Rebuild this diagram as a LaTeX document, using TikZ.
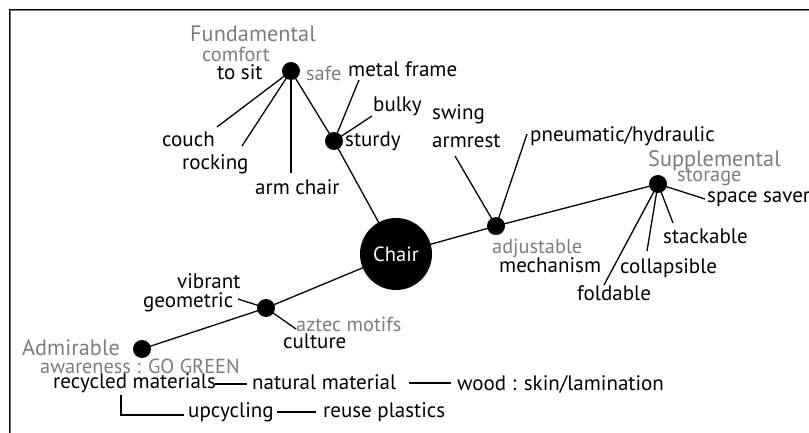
\documentclass[tikz,border=0pt]{standalone}
\usepackage{fontspec}
\setmainfont{PT Sans}
\definecolor{lgray}{RGB}{125,125,125}
\begin{document}
\begin{tikzpicture}[x=1pt,y=-1pt,
  line/.style={line width=1.3pt},
  dot/.style={circle,fill=black,inner sep=0pt,minimum size=18pt},
  blk/.style={inner sep=0pt,anchor=base west,font=\fontsize{21}{23}\selectfont},
  gry/.style={inner sep=0pt,anchor=base west,text=lgray,font=\fontsize{20.3}{22}\selectfont},
  head/.style={inner sep=0pt,anchor=base west,text=lgray,font=\fontsize{22.3}{24}\selectfont},
  ]
\useasboundingbox (0,0) rectangle (809,433);
% frame
\draw[line width=1.2pt,lgray] (10.8,433) -- (10.8,10.8) -- (809,10.8);
\draw[line width=1pt,black] (9.5,433) -- (9.5,9.5) -- (809,9.5);

% hub dots
\node[dot] (fund) at (291,71) {};
\node[dot] (sturdy) at (334,141) {};
\node[dot] (adj) at (496,226) {};
\node[dot] (supp) at (658,184) {};
\node[dot] (aztec) at (266,308) {};
\node[dot] (adm) at (142,349) {};
\coordinate (chairc) at (396,254);

% free ends
\coordinate (eCouch) at (217,127);
\coordinate (eRock) at (242,146);
\coordinate (eArm) at (291,173);
\coordinate (eMetal) at (359,80);
\coordinate (eBulky) at (372,116);
\coordinate (eArmrest) at (455,156);
\coordinate (ePneu) at (527,134);
\coordinate (eSpace) at (705,199);
\coordinate (eStack) at (673,223);
\coordinate (eColl) at (647,251);
\coordinate (eFold) at (604,285);
\coordinate (eGeo) at (238,299);
\coordinate (eMotif) at (296,329);

% main spine
\draw[line] (adm.center) -- (aztec.center) -- (chairc);
\draw[line] (chairc) -- (adj.center) -- (supp.center);
\draw[line] (fund.center) -- (sturdy.center) -- (chairc);
\node[circle,fill=black,inner sep=0pt,minimum size=72pt,text=white,
      font=\fontsize{20.5}{22}\selectfont] (chair) at (chairc) {Chair};

% branches
\draw[line] (fund.center) -- (eCouch);
\draw[line] (fund.center) -- (eRock);
\draw[line] (fund.center) -- (eArm);
\draw[line] (sturdy.center) -- (eMetal);
\draw[line] (sturdy.center) -- (eBulky);
\draw[line] (adj.center) -- (eArmrest);
\draw[line] (adj.center) -- (ePneu);
\draw[line] (supp.center) -- (eSpace);
\draw[line] (supp.center) -- (eStack);
\draw[line] (supp.center) -- (eColl);
\draw[line] (supp.center) -- (eFold);
\draw[line] (aztec.center) -- (eGeo);
\draw[line] (aztec.center) -- (eMotif);

% labels: Fundamental
\node[head] (tFund) at (190,42) {Fundamental};
\node[gry] (tComfort) at (202,62) {comfort};
\node[blk] (tSit) at (217,80) {to sit};
\node[gry] (tSafe) at (306,81) {safe};
\node[blk] (tCouch) at (162,147) {couch};
\node[blk] (tRock) at (182,170) {rocking};
\node[blk] (tArm) at (255,194) {arm chair};
\node[blk] (tMetal) at (348,77) {metal frame};
\node[blk] (tBulky) at (373,112) {bulky};
\node[blk] (tSturdy) at (345,147) {sturdy};
% adjustable
\node[blk] (tSwing) at (432,120) {swing};
\node[blk] (tArmrest) at (432,148) {armrest};
\node[blk] (tPneu) at (530,142) {pneumatic/hydraulic};
\node[gry] (tAdj) at (492,253) {adjustable};
\node[blk] (tMech) at (499,272) {mechanism};
% supplemental
\node[head] (tSupp) at (648,167) {Supplemental};
\node[gry] (tStor) at (677,182) {storage};
\node[blk] (tSpace) at (707,202) {space saver};
\node[blk] (tStack) at (663,243) {stackable};
\node[blk] (tColl) at (620,273) {collapsible};
\node[blk] (tFold) at (577,300) {foldable};
% aztec
\node[blk] (tVib) at (177,288) {vibrant};
\node[blk] (tGeo) at (143,307) {geometric};
\node[gry] (tMotif) at (296,331) {aztec motifs};
\node[blk] (tCult) at (283,348) {culture};
% admirable
\node[head] (tAdm) at (22,355) {Admirable};
\node[gry] (tAware) at (40,373) {awareness : GO GREEN};
\node[blk] (tRec) at (53,388) {recycled materials};
\node[blk] (tNat) at (252,389) {natural material};
\node[blk] (tWood) at (457,390) {wood : skin/lamination};
\node[blk] (tUp) at (188,417) {upcycling};
\node[blk] (tReuse) at (323,417) {reuse plastics};

% bottom connectors
\coordinate (bA) at (215,384);
\coordinate (bB) at (247,384);
\coordinate (bC) at (409,383);
\coordinate (bD) at (451,383);
\coordinate (uA) at (121,395);
\coordinate (uB) at (121,415);
\coordinate (uC) at (184,415);
\coordinate (uD) at (277,412);
\coordinate (uE) at (316,412);
\draw[line] (bA) -- (bB);
\draw[line] (bC) -- (bD);
\draw[line] (uA) -- (uB) -- (uC);
\draw[line] (uD) -- (uE);
\end{tikzpicture}
\end{document}
